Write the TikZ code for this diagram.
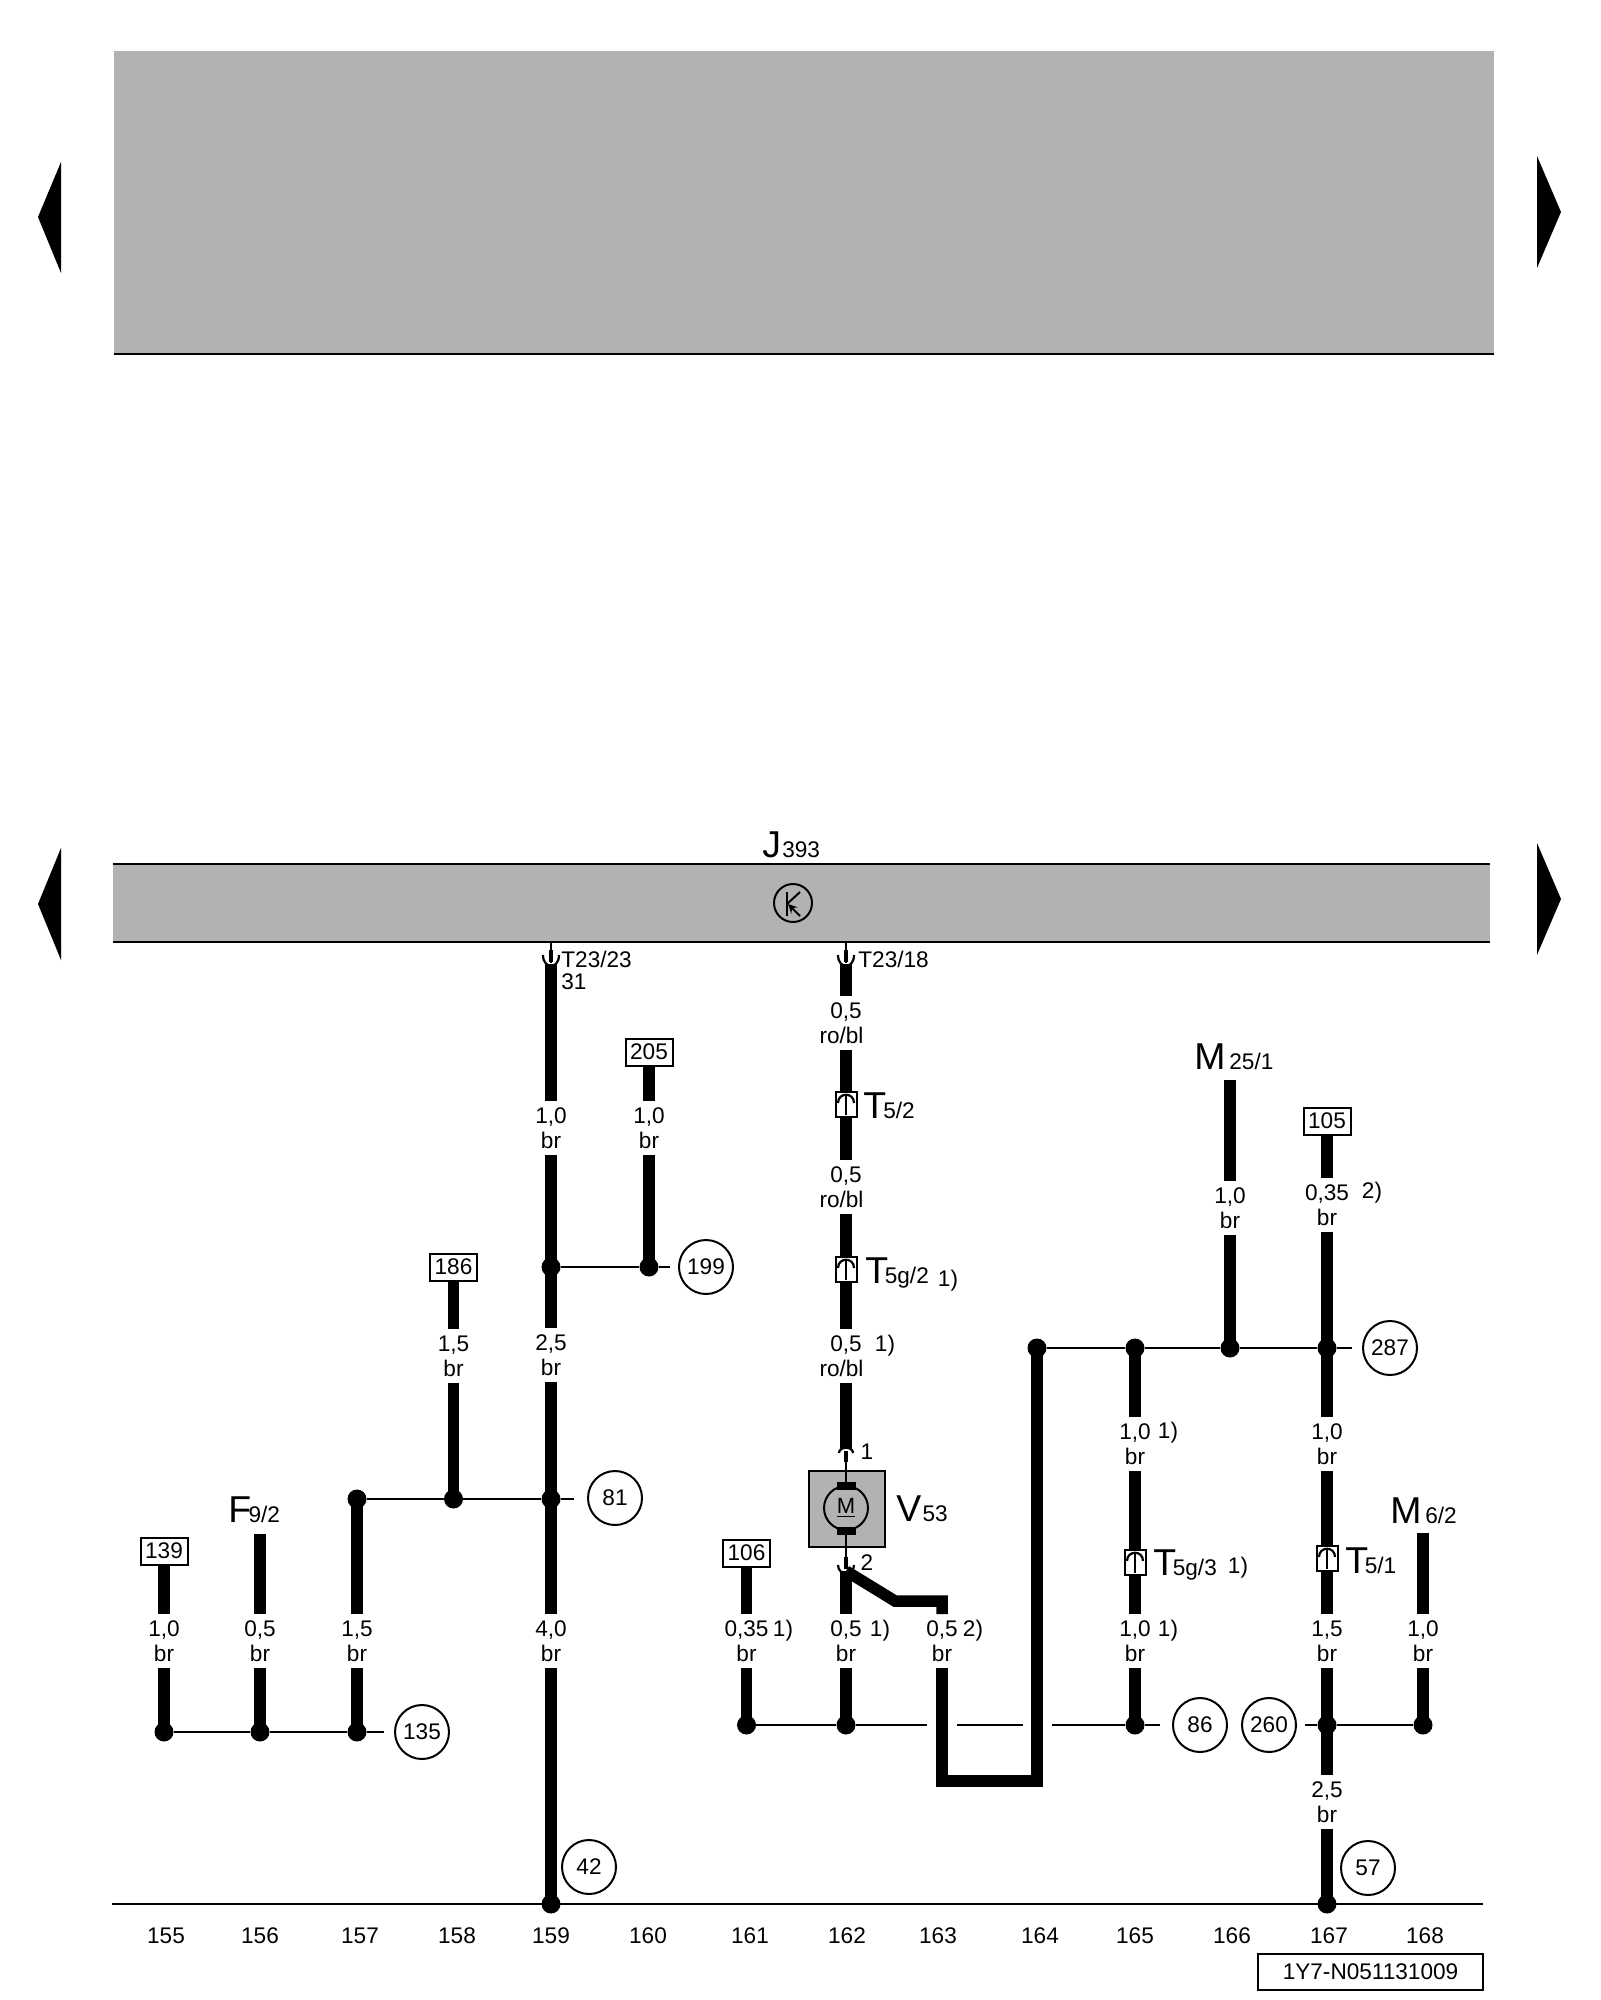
\documentclass[tikz,border=0pt]{standalone}
\usepackage{fontspec}
\setmainfont{Liberation Sans}
\usetikzlibrary{positioning}
\definecolor{ecu}{RGB}{178,178,178}
\newcommand{\biglab}[3][1.9pt]{{\fontsize{18.7}{20}\selectfont #2}\kern#1 #3}
\newcommand{\plugdown}[1]{%
  \draw[shift={(#1)},line width=1.1pt] (-8,-8) .. controls (-8,6.5) and (8,6.5) .. (8,-8);
  \draw[shift={(#1)},line width=2.2pt] (0,-13) -- (0,-1);}
\newcommand{\plugup}[1]{%
  \draw[shift={(#1)},line width=1.1pt] (-8,-1) .. controls (-8,-12) and (8,-12) .. (8,-1);
  \draw[shift={(#1)},line width=1pt] (0,-8) -- (0,11);}
\tikzstyle{wire} = [line width=5.75pt]
\tikzstyle{thin wire} = [line width=1pt]
\tikzstyle{gauge} = [inner sep=0pt, minimum width=12pt, minimum height=26.5pt, align=center]
\tikzstyle{dot} = [circle, fill=black, inner sep=0pt, minimum size=9.5pt]
\tikzstyle{ref} = [draw, line width=1pt, fill=white, inner sep=0pt, minimum width=23.5pt, minimum height=13.5pt]
\tikzstyle{sheet} = [draw, circle, line width=1pt, inner sep=0pt, minimum size=27pt]
\tikzstyle{plug} = [draw, line width=1pt, fill=white, inner sep=0pt, minimum width=10.5pt, minimum height=12.5pt]
\tikzstyle{lab} = [inner sep=0pt, anchor=base west]
\tikzstyle{note} = [inner sep=0pt]

\begin{document}
\begin{tikzpicture}[x=0.5pt,y=-0.5pt,every node/.style={font=\fontsize{11.3}{12.5}\selectfont}]
    \useasboundingbox (0,0) rectangle (1600,2000);
    % page arrows
    \fill[line join=round] (61,162) -- (38,217) -- (61,273) -- cycle;
    \fill[line join=round] (1537,156) -- (1561,212) -- (1537,268) -- cycle;
    \fill[line join=round] (61,848) -- (38,904) -- (61,960) -- cycle;
    \fill[line join=round] (1537,843) -- (1561,899) -- (1537,955) -- cycle;
    % upper grey block
    \node[fill=ecu, inner sep=0pt, minimum width=690pt, minimum height=151pt] (upper) at (804,202.5) {};
    \draw[thin wire] (upper.south west) -- (upper.south east);
    % control unit
    \node[fill=ecu, inner sep=0pt, minimum width=688.5pt, minimum height=39pt] (j393) at (801.5,903) {};
    \draw[thin wire] (j393.north west) -- (j393.north east);
    \draw[thin wire] (j393.south west) -- (j393.south east);
    \node[lab] (jlab) at (762,857) {\biglab[.6pt]{J}{393}};
    \node[draw, circle, line width=1pt, inner sep=0pt, minimum size=19pt] (kreis) at (793,903) {};
    \draw[line width=1pt] (787,892) -- (787,916);
    \draw[line width=1pt] (787,904) -- (800,892);
    \draw[line width=1pt,-stealth] (800,916) -- (788,904);
    % sheet line
    \coordinate (axl) at (112,1904);
    \coordinate (axr) at (1483,1904);
    \draw[thin wire] (axl) -- (axr);
    \foreach \n/\x in {155/166,156/260,157/360,158/457,159/551,160/648,161/750,162/847,163/938,164/1040,165/1135,166/1232,167/1329,168/1425}
        \node (n\n) at (\x,1936) {\n};
    \node[draw, line width=1pt, inner sep=0pt, minimum width=112.5pt, minimum height=18pt] (docno) at (1370.5,1972) {1Y7-N051131009};
    % dots
    \node[dot] (d155) at (164,1732) {};
    \node[dot] (d156) at (260,1732) {};
    \node[dot] (d157) at (357,1732) {};
    \node[dot] (d157t) at (357,1499) {};
    \node[dot] (d158) at (453.5,1499) {};
    \node[dot] (d159a) at (551,1267) {};
    \node[dot] (d159b) at (551,1499) {};
    \node[dot] (d159c) at (551,1904) {};
    \node[dot] (d160) at (649,1267) {};
    \node[dot] (d161) at (746.5,1725) {};
    \node[dot] (d162) at (846,1725) {};
    \node[dot] (d164) at (1037,1348) {};
    \node[dot] (d165a) at (1135,1348) {};
    \node[dot] (d165b) at (1135,1725) {};
    \node[dot] (d166) at (1230,1348) {};
    \node[dot] (d167a) at (1327,1348) {};
    \node[dot] (d167b) at (1327,1725) {};
    \node[dot] (d167c) at (1327,1904) {};
    \node[dot] (d168) at (1423,1725) {};
    % sheet references
    \node[sheet] (c135) at (422,1732) {135};
    \node[sheet] (c81) at (615,1498) {81};
    \node[sheet] (c199) at (706,1267) {199};
    \node[sheet] (c42) at (589,1867) {42};
    \node[sheet] (c86) at (1200,1725) {86};
    \node[sheet] (c260) at (1269,1725) {260};
    \node[sheet] (c287) at (1390,1348) {287};
    \node[sheet] (c57) at (1368,1868) {57};
    \node[ref] (r139) at (164,1551) {139};
    \node[ref] (r186) at (453.5,1267) {186};
    \node[ref] (r205) at (649,1052) {205};
    \node[ref] (r106) at (746.5,1553) {106};
    \node[ref] (r105) at (1327,1121) {105};
    % gauges
    \node[gauge] (g155) at (164,1641) {1,0\\br};
    \node[gauge] (g156) at (260,1641) {0,5\\br};
    \node[gauge] (g157) at (357,1641) {1,5\\br};
    \node[gauge] (g158) at (453.5,1356) {1,5\\br};
    \node[gauge] (g159a) at (551,1128) {1,0\\br};
    \node[gauge] (g159b) at (551,1355) {2,5\\br};
    \node[gauge] (g159c) at (551,1641) {4,0\\br};
    \node[gauge] (g160) at (649,1128) {1,0\\br};
    \node[gauge] (g161) at (746.5,1641) {0,35\\br};
    \node[gauge] (g162a) at (846,1023) {0,5\\ro/bl\hspace*{4.5pt}};
    \node[gauge] (g162b) at (846,1187) {0,5\\ro/bl\hspace*{4.5pt}};
    \node[gauge] (g162c) at (846,1356) {0,5\\ro/bl\hspace*{4.5pt}};
    \node[gauge] (g162d) at (846,1641) {0,5\\br};
    \node[gauge] (g163) at (942,1641) {0,5\\br};
    \node[gauge] (g165a) at (1135,1444) {1,0\\br};
    \node[gauge] (g165b) at (1135,1641) {1,0\\br};
    \node[gauge] (g166) at (1230,1208) {1,0\\br};
    \node[gauge] (g167a) at (1327,1205) {0,35\\br};
    \node[gauge] (g167b) at (1327,1444) {1,0\\br};
    \node[gauge] (g167c) at (1327,1641) {1,5\\br};
    \node[gauge] (g167d) at (1327,1802) {2,5\\br};
    \node[gauge] (g168) at (1423,1641) {1,0\\br};
    % notes
    \node[note] (n161) at (783,1631) {1)};
    \node[note] (n162d) at (880,1631) {1)};
    \node[note] (n163) at (973,1631) {2)};
    \node[note] (n162c) at (885,1346) {1)};
    \node[note] (n165a) at (1168,1433) {1)};
    \node[note] (n165b) at (1168,1631) {1)};
    \node[note] (n167a) at (1372,1193) {2)};
    % plugs
    \node[plug] (t52) at (846,1104) {};
    \node[plug] (t5g2) at (846,1269) {};
    \node[plug] (t5g3) at (1135,1562) {};
    \node[plug] (t51) at (1327,1558) {};
    \node[lab] (t52lab) at (863,1118) {\biglab[-1.5pt]{T}{5/2}};
    \node[lab] (t5g2lab) at (865,1283) {\biglab[-1.7pt]{T}{5g/2}};
    \node[note] (n5g2) at (948,1281) {1)};
    \node[lab] (t5g3lab) at (1153,1575) {\biglab[-1.7pt]{T}{5g/3}};
    \node[note] (n5g3) at (1238,1568) {1)};
    \node[lab] (t51lab) at (1345,1573) {\biglab[-1.7pt]{T}{5/1}};
    \node[lab] (t2323) at (561,967) {T23/23};
    \node[lab] (pin31) at (561,989) {31};
    \node[lab] (t2318) at (858,967) {T23/18};
    % component labels
    \node[lab] (f92) at (228,1522) {\biglab[-1.3pt]{F}{9/2}};
    \node[lab] (m251) at (1194,1069) {\biglab{M}{25/1}};
    \node[lab] (m62) at (1390,1523) {\biglab{M}{6/2}};
    \node[lab] (v53) at (896,1521) {\biglab[.6pt]{V}{53}};
    \node (pin1) at (867,1452) {1};
    \node (pin2) at (867,1563) {2};
    % wire ends
    \coordinate (top156) at (260,1534);
    \coordinate (top159) at (551,964);
    \coordinate (top162) at (846,964);
    \coordinate (top166) at (1230,1080);
    \coordinate (top168) at (1423,1533);
    \coordinate (mot1) at (846,1448);
    \coordinate (mot2) at (846,1571);
    \coordinate (bend1) at (895,1601);
    \coordinate (bend2) at (942,1601);
    \coordinate (loop1) at (942,1781);
    \coordinate (loop2) at (1037,1781);
    \coordinate (stub135) at (384,1732);
    \coordinate (stub81) at (574,1499);
    \coordinate (stub199) at (670,1267);
    \coordinate (cut1a) at (927,1725);
    \coordinate (cut2a) at (957,1725);
    \coordinate (cut2b) at (1023,1725);
    \coordinate (cut3a) at (1052,1725);
    \coordinate (stub86) at (1160,1725);
    \coordinate (stub260) at (1305,1725);
    \coordinate (stub287) at (1352,1348);
    % thick wires
    \draw[wire] (r139) -- (g155) -- (d155.center);
    \draw[wire] (top156) -- (g156) -- (d156.center);
    \draw[wire] (d157t.center) -- (g157) -- (d157.center);
    \draw[wire] (r186) -- (g158) -- (d158.center);
    \draw[wire] (top159) -- (g159a) -- (d159a.center) -- (g159b) -- (d159b.center) -- (g159c) -- (d159c.center);
    \draw[wire] (r205) -- (g160) -- (d160.center);
    \draw[wire] (r106) -- (g161) -- (d161.center);
    \draw[wire] (top162) -- (g162a) -- (t52) -- (g162b) -- (t5g2) -- (g162c) -- (mot1);
    \draw[wire] (mot2) -- (g162d) -- (d162.center);
    \draw[wire] (mot2) -- (bend1) -- (bend2) -- (g163);
    \draw[wire] (g163) -- (loop1) -- (loop2) -- (d164.center);
    \draw[wire] (d165a.center) -- (g165a) -- (t5g3) -- (g165b) -- (d165b.center);
    \draw[wire] (top166) -- (g166) -- (d166.center);
    \draw[wire] (r105) -- (g167a) -- (d167a.center) -- (g167b) -- (t51) -- (g167c) -- (d167b.center) -- (g167d) -- (d167c.center);
    \draw[wire] (top168) -- (g168) -- (d168.center);
    % thin wires
    \draw[thin wire] (d155) -- (d156) -- (d157) -- (stub135);
    \draw[thin wire] (d157t) -- (d158) -- (d159b) -- (stub81);
    \draw[thin wire] (d159a) -- (d160) -- (stub199);
    \draw[thin wire] (d161) -- (d162) -- (cut1a);
    \draw[thin wire] (cut2a) -- (cut2b);
    \draw[thin wire] (cut3a) -- (d165b) -- (stub86);
    \draw[thin wire] (stub260) -- (d167b) -- (d168);
    \draw[thin wire] (d164) -- (d165a) -- (d166) -- (d167a) -- (stub287);
    % plug symbols
    \coordinate (pl159) at (551,963);
    \coordinate (pl162) at (846,963);
    \draw[thin wire] (j393.south -| pl159) -- (pl159);
    \draw[thin wire] (j393.south -| pl162) -- (pl162);
    \plugdown{pl159}
    \plugdown{pl162}
    \plugup{t52}
    \plugup{t5g2}
    \plugup{t5g3}
    \plugup{t51}
    % motor
    \node[draw, fill=ecu, line width=1pt, inner sep=0pt, minimum size=38pt] (v53box) at (847,1509) {};
    \draw[line width=1.1pt] (839,1453) .. controls (839,1446) and (853,1446) .. (853,1453);
    \draw[line width=2.2pt] (846,1451) -- (846,1462);
    \draw[thin wire] (846,1462) -- (846,1482);
    \draw[thin wire] (846,1535) -- (846,1557);
    \draw[line width=2.2pt] (846,1557) -- (846,1569);
    \draw[line width=1.1pt] (838,1565) .. controls (838,1576) and (854,1576) .. (854,1565);
    \fill (836.5,1482) rectangle (855.5,1490);
    \fill (836.5,1527) rectangle (855.5,1535);
    \node[draw, circle, line width=1pt, inner sep=0pt, minimum size=22pt] (motor) at (846,1508) {\fontsize{11}{11}\selectfont\underline{M}};
\end{tikzpicture}
\end{document}
